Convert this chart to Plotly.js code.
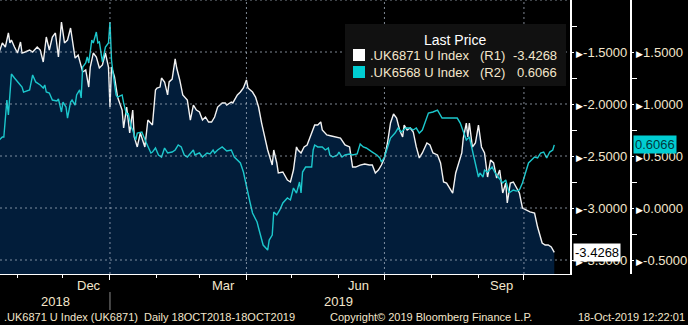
<!DOCTYPE html>
<html>
<head>
<meta charset="utf-8">
<script src="https://cdn.plot.ly/plotly-3.0.1.min.js"></script>
<style>
html,body{margin:0;padding:0;background:#000;}
#chart{width:688px;height:325px;}
</style>
</head>
<body>
<div id="chart"></div>
<script>
// ---- Data ----
const whiteName = ".UK6871 U Index";
const cyanName = ".UK6568 U Index";
const whiteDates = ["2018-10-20","2018-10-22","2018-10-24","2018-10-26","2018-10-27","2018-10-28","2018-10-30","2018-11-01","2018-11-03","2018-11-04","2018-11-06","2018-11-09","2018-11-11","2018-11-14","2018-11-16","2018-11-18","2018-11-20","2018-11-22","2018-11-24","2018-11-26","2018-11-28","2018-11-30","2018-12-02","2018-12-04","2018-12-06","2018-12-09","2018-12-11","2018-12-14","2018-12-16","2018-12-18","2018-12-19","2018-12-21","2018-12-23","2018-12-25","2018-12-27","2018-12-29","2018-12-31","2019-01-01","2019-01-02","2019-01-04","2019-01-06","2019-01-09","2019-01-10","2019-01-12","2019-01-14","2019-01-16","2019-01-17","2019-01-19","2019-01-21","2019-01-24","2019-01-26","2019-01-29","2019-01-31","2019-02-01","2019-02-03","2019-02-04","2019-02-06","2019-02-08","2019-02-09","2019-02-11","2019-02-13","2019-02-14","2019-02-16","2019-02-18","2019-02-21","2019-02-22","2019-02-23","2019-02-25","2019-02-27","2019-03-01","2019-03-03","2019-03-05","2019-03-07","2019-03-09","2019-03-11","2019-03-13","2019-03-16","2019-03-18","2019-03-19","2019-03-22","2019-03-23","2019-03-26","2019-03-28","2019-03-30","2019-04-01","2019-04-02","2019-04-05","2019-04-07","2019-04-09","2019-04-11","2019-04-13","2019-04-15","2019-04-18","2019-04-19","2019-04-21","2019-04-22","2019-04-25","2019-04-28","2019-04-30","2019-05-02","2019-05-04","2019-05-05","2019-05-07","2019-05-09","2019-05-11","2019-05-14","2019-05-16","2019-05-18","2019-05-20","2019-05-21","2019-05-24","2019-05-27","2019-05-31","2019-06-02","2019-06-05","2019-06-08","2019-06-10","2019-06-12","2019-06-15","2019-06-18","2019-06-21","2019-06-23","2019-06-25","2019-06-27","2019-06-29","2019-07-01","2019-07-03","2019-07-05","2019-07-07","2019-07-09","2019-07-11","2019-07-13","2019-07-14","2019-07-16","2019-07-18","2019-07-20","2019-07-22","2019-07-24","2019-07-26","2019-07-29","2019-07-31","2019-08-02","2019-08-05","2019-08-07","2019-08-09","2019-08-11","2019-08-13","2019-08-15","2019-08-17","2019-08-19","2019-08-21","2019-08-22","2019-08-24","2019-08-25","2019-08-26","2019-08-28","2019-08-30","2019-09-01","2019-09-03","2019-09-05","2019-09-07","2019-09-09","2019-09-11","2019-09-13","2019-09-15","2019-09-17","2019-09-19","2019-09-20","2019-09-22","2019-09-24","2019-09-26","2019-09-28","2019-09-30","2019-10-03","2019-10-05","2019-10-08","2019-10-10","2019-10-13","2019-10-15","2019-10-17","2019-10-19","2019-10-21"];
const whiteVals = [-1.500,-1.413,-1.452,-1.317,-1.413,-1.385,-1.452,-1.510,-1.404,-1.510,-1.500,-1.481,-1.500,-1.452,-1.481,-1.596,-1.356,-1.481,-1.356,-1.317,-1.548,-1.212,-1.413,-1.385,-1.269,-1.558,-1.529,-1.692,-1.673,-1.837,-1.644,-1.510,-1.548,-1.654,-1.625,-1.510,-1.644,-2.029,-1.644,-1.740,-1.933,-2.058,-2.231,-2.029,-2.279,-2.058,-2.317,-2.413,-2.279,-2.413,-2.154,-2.202,-1.865,-1.846,-1.837,-1.750,-1.788,-1.913,-1.788,-1.760,-1.567,-1.654,-1.769,-1.913,-1.962,-2.058,-2.154,-2.010,-2.058,-2.077,-2.154,-2.125,-2.173,-2.173,-2.125,-2.029,-1.990,-1.990,-2.010,-1.981,-1.990,-1.913,-1.885,-1.846,-1.769,-1.846,-1.885,-1.933,-2.029,-2.183,-2.317,-2.442,-2.587,-2.442,-2.567,-2.663,-2.654,-2.731,-2.750,-2.635,-2.413,-2.442,-2.471,-2.413,-2.394,-2.279,-2.202,-2.202,-2.173,-2.250,-2.298,-2.308,-2.317,-2.327,-2.394,-2.413,-2.606,-2.606,-2.587,-2.577,-2.587,-2.587,-2.663,-2.635,-2.587,-2.519,-2.375,-2.183,-2.096,-2.135,-2.250,-2.317,-2.202,-2.250,-2.231,-2.269,-2.413,-2.519,-2.471,-2.375,-2.394,-2.471,-2.490,-2.567,-2.750,-2.760,-2.808,-2.856,-2.663,-2.567,-2.471,-2.327,-2.183,-2.317,-2.183,-2.413,-2.375,-2.202,-2.413,-2.471,-2.702,-2.538,-2.567,-2.712,-2.635,-2.856,-2.760,-2.952,-2.760,-2.750,-2.798,-2.856,-3.000,-3.019,-3.038,-3.048,-3.183,-3.337,-3.356,-3.356,-3.375,-3.4268];
const cyanDates = ["2018-10-20","2018-10-22","2018-10-23","2018-10-24","2018-10-25","2018-10-26","2018-10-28","2018-10-30","2018-11-01","2018-11-04","2018-11-05","2018-11-09","2018-11-11","2018-11-13","2018-11-16","2018-11-18","2018-11-19","2018-11-20","2018-11-22","2018-11-24","2018-11-27","2018-11-28","2018-11-30","2018-12-01","2018-12-03","2018-12-04","2018-12-06","2018-12-07","2018-12-09","2018-12-10","2018-12-12","2018-12-13","2018-12-14","2018-12-16","2018-12-17","2018-12-18","2018-12-20","2018-12-21","2018-12-23","2018-12-24","2018-12-25","2018-12-27","2018-12-29","2018-12-31","2019-01-01","2019-01-02","2019-01-03","2019-01-05","2019-01-06","2019-01-09","2019-01-10","2019-01-12","2019-01-13","2019-01-15","2019-01-16","2019-01-18","2019-01-19","2019-01-22","2019-01-25","2019-01-28","2019-01-29","2019-01-31","2019-02-02","2019-02-04","2019-02-06","2019-02-08","2019-02-11","2019-02-13","2019-02-15","2019-02-17","2019-02-19","2019-02-21","2019-02-25","2019-02-26","2019-03-01","2019-03-03","2019-03-06","2019-03-08","2019-03-10","2019-03-11","2019-03-13","2019-03-16","2019-03-19","2019-03-22","2019-03-24","2019-03-28","2019-03-30","2019-04-01","2019-04-03","2019-04-05","2019-04-08","2019-04-09","2019-04-11","2019-04-12","2019-04-15","2019-04-16","2019-04-18","2019-04-19","2019-04-21","2019-04-23","2019-04-25","2019-04-28","2019-04-30","2019-05-02","2019-05-04","2019-05-06","2019-05-07","2019-05-08","2019-05-10","2019-05-12","2019-05-14","2019-05-15","2019-05-16","2019-05-18","2019-05-21","2019-05-23","2019-05-25","2019-05-26","2019-05-28","2019-05-31","2019-06-01","2019-06-03","2019-06-05","2019-06-08","2019-06-10","2019-06-13","2019-06-15","2019-06-17","2019-06-19","2019-06-23","2019-06-26","2019-06-28","2019-06-29","2019-07-01","2019-07-03","2019-07-05","2019-07-08","2019-07-10","2019-07-12","2019-07-15","2019-07-18","2019-07-20","2019-07-22","2019-07-24","2019-07-26","2019-07-30","2019-08-02","2019-08-05","2019-08-08","2019-08-11","2019-08-14","2019-08-18","2019-08-20","2019-08-22","2019-08-24","2019-08-26","2019-08-28","2019-08-30","2019-09-01","2019-09-02","2019-09-04","2019-09-05","2019-09-07","2019-09-10","2019-09-12","2019-09-14","2019-09-17","2019-09-19","2019-09-21","2019-09-22","2019-09-24","2019-09-26","2019-09-28","2019-09-30","2019-10-02","2019-10-04","2019-10-06","2019-10-08","2019-10-10","2019-10-12","2019-10-14","2019-10-16","2019-10-18","2019-10-20","2019-10-21"];
const cyanVals = [0.654,0.683,0.683,0.913,1.038,0.894,1.288,1.250,1.212,1.163,1.115,1.135,1.279,1.212,1.183,1.154,1.183,1.115,1.106,1.038,1.029,1.048,0.923,1.019,0.971,0.865,1.019,1.038,0.990,1.087,1.135,1.058,1.356,1.394,1.452,1.394,1.615,1.587,1.692,1.587,1.596,1.404,1.548,1.587,1.788,1.423,1.298,1.087,1.067,1.087,1.010,0.894,0.913,0.779,0.750,0.654,0.721,0.731,0.625,0.529,0.538,0.577,0.510,0.490,0.577,0.529,0.538,0.558,0.606,0.587,0.510,0.490,0.558,0.510,0.529,0.490,0.529,0.519,0.558,0.529,0.558,0.587,0.548,0.558,0.490,0.433,0.346,0.202,0.077,-0.048,-0.135,-0.192,-0.308,-0.356,-0.404,-0.308,-0.260,-0.038,-0.067,-0.019,0.048,0.096,0.077,0.192,0.144,0.250,0.144,0.346,0.394,0.394,0.394,0.558,0.606,0.587,0.587,0.558,0.577,0.510,0.490,0.510,0.538,0.490,0.510,0.519,0.510,0.519,0.615,0.587,0.577,0.538,0.510,0.481,0.442,0.490,0.587,0.673,0.721,0.769,0.731,0.769,0.769,0.750,0.769,0.721,0.750,0.913,0.923,0.942,0.865,0.865,0.865,0.865,0.817,0.731,0.654,0.683,0.558,0.433,0.298,0.337,0.298,0.365,0.346,0.394,0.337,0.298,0.240,0.269,0.154,0.154,0.173,0.163,0.173,0.240,0.337,0.433,0.462,0.490,0.481,0.529,0.538,0.481,0.538,0.558,0.6066];

// Axis ticks / labels
const r1Ticks = [-1.5,-2.0,-2.5,-3.0,-3.5];
const r1Minor = [-1.25,-1.75,-2.25,-2.75,-3.25];
const r1Grid = [-1.0,-1.5,-2.0,-2.5,-3.0,-3.5];
const r2Ticks = [1.5,1.0,0.5,0.0,-0.5];
const r2Minor = [1.25,0.75,0.25,-0.25];
const r1Range = [-3.6346,-1.0];
const r2Range = [-0.6346,2.0];
const quarterDates = ["2019-01-01","2019-04-01","2019-07-01","2019-10-01"];
const monthStarts = ["2018-11-01","2018-12-01","2019-02-01","2019-03-01","2019-05-01","2019-06-01","2019-08-01","2019-09-01"];
const monthLabels = ["Dec","Mar","Jun","Sep"];
const monthLabelDates = ["2018-12-18","2019-03-17","2019-06-14","2019-09-16"];
const yearLabels = ["2018","2019"];
const yearLabelDates = ["2018-11-26","2019-06-01"];
const xRange = ["2018-10-20 11:17","2019-10-31 08:53"];
const footerLeft = ".UK6871 U Index (UK6871)  Daily 18OCT2018-18OCT2019";
const footerMid = "Copyright\u00a9 2019 Bloomberg Finance L.P.";
const footerRight = "18-Oct-2019 12:22:01";

const WHITE = "#f2f2f2";
const CYAN = "#1cc7cc";
const NAVY = "#021d3a";
const LABEL = "#f3e6cc";
const FONT = "Liberation Sans, Arial, sans-serif";

// plot area in px: width 630 (incl. second axis gap), height 274
const PW = 630, PH = 274;
const px = v => v / PW;
const py = v => 1 - v / PH;

function tickTxt(v){
  return '<span style="color:#ffffff;font-size:9px">\u25B6</span>' + v.toFixed(4);
}

const traces = [
  { // fill floor
    x: [whiteDates[0], whiteDates[whiteDates.length-1]],
    y: [-5, -5],
    mode: "lines", line: {width: 0, color: "rgba(0,0,0,0)"},
    hoverinfo: "skip", showlegend: false, xaxis: "x", yaxis: "y"
  },
  {
    x: whiteDates, y: whiteVals, name: whiteName,
    mode: "lines", fill: "tonexty", fillcolor: NAVY,
    line: {color: WHITE, width: 1.4},
    xaxis: "x", yaxis: "y"
  },
  {
    x: cyanDates, y: cyanVals, name: cyanName,
    mode: "lines",
    line: {color: CYAN, width: 1.4},
    xaxis: "x", yaxis: "y2"
  }
];

const shapes = [];
r1Grid.forEach(v => shapes.push({
  type: "line", xref: "x domain", x0: 0, x1: 1, yref: "y", y0: v, y1: v,
  line: {color: "rgba(170,180,195,0.75)", width: 1, dash: "2px,3px"}, layer: "above"
}));
quarterDates.forEach(d => shapes.push({
  type: "line", xref: "x", x0: d, x1: d, yref: "y domain", y0: 0, y1: 1,
  line: {color: "rgba(170,180,195,0.75)", width: 1, dash: "2px,3px"}, layer: "above"
}));
// year separator under axis
shapes.push({type: "line", xref: "x", x0: quarterDates[0], x1: quarterDates[0], yref: "paper", y0: py(292), y1: py(310),
  line: {color: "#8a8a8a", width: 1}});
// legend box
shapes.push({type: "rect", xref: "paper", yref: "paper", x0: px(345), x1: px(566), y0: py(86), y1: py(24),
  fillcolor: "#111111", line: {width: 0}, layer: "above"});
shapes.push({type: "rect", xref: "paper", yref: "paper", x0: px(353), x1: px(365), y0: py(61), y1: py(49),
  fillcolor: "#ffffff", line: {width: 0}, layer: "above"});
shapes.push({type: "rect", xref: "paper", yref: "paper", x0: px(353), x1: px(365), y0: py(78), y1: py(66),
  fillcolor: "#00cdd2", line: {width: 0}, layer: "above"});

const lastW = whiteVals[whiteVals.length-1];
const lastC = cyanVals[cyanVals.length-1];

const annotations = [];
monthLabels.forEach((m, i) => annotations.push({
  text: m, xref: "x", x: monthLabelDates[i], yref: "paper", y: py(285), yanchor: "middle",
  showarrow: false, font: {family: FONT, size: 13, color: LABEL}
}));
yearLabels.forEach((m, i) => annotations.push({
  text: m, xref: "x", x: yearLabelDates[i], yref: "paper", y: py(301), yanchor: "middle",
  showarrow: false, font: {family: FONT, size: 13, color: LABEL}
}));
annotations.push({text: footerLeft, xref: "paper", x: px(2), xanchor: "left", yref: "paper", y: py(317), yanchor: "middle",
  showarrow: false, font: {family: FONT, size: 11, color: LABEL}});
annotations.push({text: footerMid, xref: "paper", x: px(328), xanchor: "left", yref: "paper", y: py(317), yanchor: "middle",
  showarrow: false, font: {family: FONT, size: 11, color: LABEL}});
annotations.push({text: footerRight, xref: "paper", x: px(687), xanchor: "right", yref: "paper", y: py(317), yanchor: "middle",
  showarrow: false, font: {family: FONT, size: 11, color: LABEL}});
// legend text
annotations.push({text: "Last Price", xref: "paper", x: px(455), xanchor: "center", yref: "paper", y: py(40), yanchor: "middle",
  showarrow: false, font: {family: FONT, size: 14, color: "#ffffff"}});
[[whiteName, "(R1)", lastW, 56], [cyanName, "(R2)", lastC, 72]].forEach(r => {
  annotations.push({text: r[0], xref: "paper", x: px(368), xanchor: "left", yref: "paper", y: py(r[3]), yanchor: "middle",
    showarrow: false, font: {family: FONT, size: 13, color: LABEL}});
  annotations.push({text: r[1], xref: "paper", x: px(478), xanchor: "left", yref: "paper", y: py(r[3]), yanchor: "middle",
    showarrow: false, font: {family: FONT, size: 13, color: LABEL}});
  annotations.push({text: r[2].toFixed(4), xref: "paper", x: px(559), xanchor: "right", yref: "paper", y: py(r[3]), yanchor: "middle",
    showarrow: false, font: {family: FONT, size: 13, color: LABEL}});
});
// last value tags
annotations.push({text: lastW.toFixed(4), xref: "paper", x: px(573), xanchor: "left", yref: "y", y: lastW, yanchor: "middle",
  showarrow: false, bgcolor: "#ffffff", borderpad: 1, font: {family: FONT, size: 13, color: "#000000"}});
annotations.push({text: lastC.toFixed(4), xref: "paper", x: px(633), xanchor: "left", yref: "y2", y: lastC, yanchor: "middle",
  showarrow: false, bgcolor: "#00cdd2", borderpad: 1, font: {family: FONT, size: 13, color: "#003a3c"}});

const yCommon = {
  side: "right", showline: true, linecolor: "#ffffff", linewidth: 1.5,
  showgrid: false, zeroline: false, tickmode: "array",
  ticks: "outside", ticklen: 2, tickwidth: 1, tickcolor: "#ffffff",
  tickfont: {family: FONT, size: 13, color: LABEL}
};

const layout = {
  width: 688, height: 325,
  margin: {l: 0, r: 58, t: 0, b: 51, pad: 0},
  paper_bgcolor: "#000000", plot_bgcolor: "#000000",
  showlegend: false,
  xaxis: {
    type: "date", domain: [0, 570/630], range: xRange,
    showgrid: false, zeroline: false, showline: true, linecolor: "#ffffff", linewidth: 1,
    tickmode: "array", tickvals: quarterDates, ticks: "outside", ticklen: 5, tickcolor: "#ffffff",
    showticklabels: false,
    minor: {tickvals: monthStarts, ticks: "outside", ticklen: 3, tickcolor: "#ffffff", showgrid: false}
  },
  yaxis: Object.assign({}, yCommon, {
    range: r1Range, anchor: "x",
    tickvals: r1Ticks, ticktext: r1Ticks.map(tickTxt),
    minor: {tickvals: r1Minor, ticks: "outside", ticklen: 5, tickcolor: "#ffffff", showgrid: false}
  }),
  yaxis2: Object.assign({}, yCommon, {
    range: r2Range, overlaying: "y", anchor: "free", position: 1,
    tickvals: r2Ticks, ticktext: r2Ticks.map(tickTxt),
    minor: {tickvals: r2Minor, ticks: "outside", ticklen: 5, tickcolor: "#ffffff", showgrid: false}
  }),
  shapes: shapes,
  annotations: annotations
};

Plotly.newPlot("chart", traces, layout, {staticPlot: true, displayModeBar: false});
</script>
</body>
</html>
